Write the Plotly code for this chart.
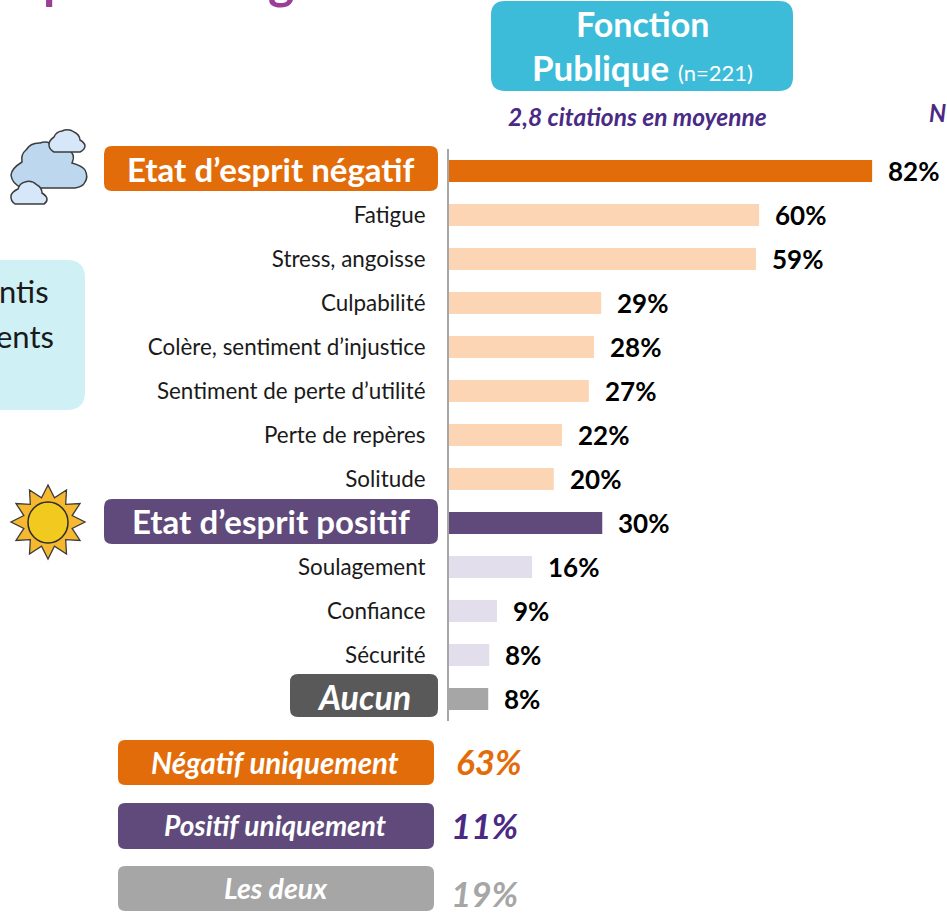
import math
import plotly.graph_objects as go

# ---------- data ----------
categories = ["Etat d’esprit négatif", "Fatigue", "Stress, angoisse", "Culpabilité",
              "Colère, sentiment d’injustice", "Sentiment de perte d’utilité",
              "Perte de repères", "Solitude", "Etat d’esprit positif", "Soulagement",
              "Confiance", "Sécurité", "Aucun"]
values = [82, 60.1, 59.5, 29.5, 28.1, 27.1, 21.9, 20.3, 29.7, 16.1, 9.3, 7.8, 7.6]
value_labels = ["82%", "60%", "59%", "29%", "28%", "27%", "22%", "20%", "30%", "16%", "9%", "8%", "8%"]
bar_colors = ["#E36C0A"] + ["#FCD5B5"] * 7 + ["#604A7B"] + ["#E3DEEB"] * 3 + ["#A6A6A6"]
header_rows = ["Etat d’esprit négatif", "Etat d’esprit positif", "Aucun"]
summary_labels = ["Négatif uniquement", "Positif uniquement", "Les deux"]
summary_values = ["63%", "11%", "19%"]
summary_colors = ["#E36C0A", "#604A7B", "#A6A6A6"]
summary_text_colors = ["#E36C0A", "#4A2A85", "#A6A6A6"]

FONT = "Lato"
W, H = 947, 916
L, T, B = 449, 149, 195
PW, PH = W - L, H - T - B
PX_PER_PCT = 5.16

def X(x): return (x - L) / PW
def Y(y): return 1 - (y - T) / PH

def rrect(x0, y0, x1, y1, r):
    p = lambda a, b: f"{X(a):.5f},{Y(b):.5f}"
    return (f"M{p(x0+r,y0)} L{p(x1-r,y0)} Q{p(x1,y0)} {p(x1,y0+r)} L{p(x1,y1-r)} "
            f"Q{p(x1,y1)} {p(x1-r,y1)} L{p(x0+r,y1)} Q{p(x0,y1)} {p(x0,y1-r)} "
            f"L{p(x0,y0+r)} Q{p(x0,y0)} {p(x0+r,y0)} Z")

def box(x0, y0, x1, y1, r, color):
    return dict(type="path", xref="paper", yref="paper", path=rrect(x0, y0, x1, y1, r),
                fillcolor=color, line=dict(width=0), layer="below")

def label(x, y, text, size, color="white", bold=True, italic=False, anchor="center"):
    t = text
    if bold: t = f"<b>{t}</b>"
    if italic: t = f"<i>{t}</i>"
    return dict(xref="paper", yref="paper", x=X(x), y=Y(y), text=t, showarrow=False,
                xanchor=anchor, yanchor="middle", align=anchor,
                font=dict(family=FONT, size=size, color=color))

def cloud(anchors, center, bulge, fill):
    p = lambda a, b: f"{X(a):.5f},{Y(b):.5f}"
    d = f"M{p(*anchors[0])}"
    n = len(anchors)
    for i in range(n - 1):
        a, b = anchors[i], anchors[i + 1]
        mx, my = (a[0] + b[0]) / 2, (a[1] + b[1]) / 2
        dx, dy = mx - center[0], my - center[1]
        ln = math.hypot(dx, dy) or 1
        k = bulge * math.hypot(b[0] - a[0], b[1] - a[1])
        d += f" Q{p(mx + dx / ln * k, my + dy / ln * k)} {p(*b)}"
    return dict(type="path", xref="paper", yref="paper", path=d + " Z", fillcolor=fill,
                line=dict(color="#3C3C3C", width=1.5))

def sun(cx, cy, ro, ri, n):
    pts = []
    for i in range(2 * n):
        r = ro if i % 2 == 0 else ri
        a = math.pi * i / n + math.pi / 2
        pts.append((cx + r * math.cos(a), cy - r * math.sin(a)))
    d = "M" + " L".join(f"{X(a):.5f},{Y(b):.5f}" for a, b in pts) + " Z"
    return dict(type="path", xref="paper", yref="paper", path=d, fillcolor="#F5B82E",
                line=dict(color="#3C3C3C", width=1.3))

shapes = [
    box(491, 1, 793, 91, 14, "#3DBCD9"),
    box(104, 146, 438, 191, 8, "#E36C0A"),
    box(104, 499, 438, 544, 8, "#604A7B"),
    box(290, 674, 438, 717, 8, "#595959"),
    box(-30, 260, 85, 410, 18, "#CFF0F5"),
    box(118, 740, 434, 785, 7, summary_colors[0]),
    box(118, 803, 434, 849, 7, summary_colors[1]),
    box(118, 866, 434, 911, 7, summary_colors[2]),
    cloud([(22, 188), (11, 175), (22, 162), (26, 150), (40, 143), (55, 146), (72, 153),
           (72, 163), (85, 170), (85, 182), (75, 188)], (48, 168), 0.3, "#BDD7EE"),
    cloud([(54, 152), (49, 145), (54, 137), (62, 131), (74, 132), (80, 140), (85, 146), (80, 152)],
          (66, 144), 0.3, "#D5E7F9"),
    cloud([(15, 204), (11, 196), (18, 189), (25, 182), (37, 185), (42, 193), (47, 199), (44, 204)],
          (29, 196), 0.3, "#D5E7F9"),
    sun(48, 522, 37, 25, 12),
    dict(type="circle", xref="paper", yref="paper", x0=X(28), x1=X(68), y0=Y(502), y1=Y(543),
         fillcolor="#F2C91E", line=dict(color="#2B2B2B", width=1.5)),
]

annotations = [
    label(642, 23, "Fonction", 34),
    label(642, 67, "<b>Publique</b> <span style='font-size:22px;font-weight:400'>(n=221)</span>", 35, bold=False),
    label(637, 116, "2,8 citations en moyenne", 24.5, color="#4A2A85", italic=True),
    label(927, 112, "N", 24, color="#4A2A85", italic=True, anchor="left"),
    label(271, 169, categories[0], 33),
    label(271, 521, categories[8], 33),
    label(364, 696, categories[12], 34, italic=True),
    label(51, 291, "ntis", 31, color="#1A1A1A", bold=False, anchor="right"),
    label(56, 336, "ents", 31, color="#1A1A1A", bold=False, anchor="right"),
    label(57, -20, "p", 50, color="#9B3F96"),
    label(281, -20, "g", 50, color="#9B3F96"),
    label(275, 762, summary_labels[0], 29.5, italic=True),
    label(275, 825, summary_labels[1], 28, italic=True),
    label(276, 888, summary_labels[2], 28.5, italic=True),
    label(489, 761, summary_values[0], 35, color=summary_text_colors[0], italic=True),
    label(484, 825, summary_values[1], 35, color=summary_text_colors[1], italic=True),
    label(484, 893, summary_values[2], 35, color=summary_text_colors[2], italic=True),
]
for c, v, t in zip(categories, values, value_labels):
    annotations.append(dict(x=v, y=c, xref="x", yref="y", text=f"<b>{t}</b>", showarrow=False,
                            xanchor="left", yanchor="middle", xshift=14, yshift=0,
                            font=dict(family=FONT, size=26, color="black")))

fig = go.Figure(go.Bar(x=values, y=categories, orientation="h",
                       marker=dict(color=bar_colors, line=dict(width=0)),
                       width=0.5, hoverinfo="skip"))
tick_cats = [c for c in categories if c not in header_rows]
fig.update_layout(
    width=W, height=H, autosize=False, paper_bgcolor="white", plot_bgcolor="white",
    margin=dict(l=L, r=0, t=T, b=B, pad=0), showlegend=False,
    shapes=shapes, annotations=annotations,
    xaxis=dict(range=[0, PW / PX_PER_PCT], visible=False, fixedrange=True),
    yaxis=dict(categoryorder="array", categoryarray=categories, autorange=False,
               range=[12.5, -0.5], tickmode="array", tickvals=tick_cats, ticktext=tick_cats,
               ticks="outside", ticklen=17, tickcolor="rgba(0,0,0,0)", automargin=False,
               showline=True, linecolor="#A6A6A6", linewidth=2, showgrid=False, zeroline=False,
               tickfont=dict(family=FONT, size=22.4, color="#1A1A1A"), fixedrange=True),
)
fig.write_html("out.html", config=dict(displayModeBar=False),
               post_script="document.body.style.margin='0';document.body.style.overflow='hidden';")
